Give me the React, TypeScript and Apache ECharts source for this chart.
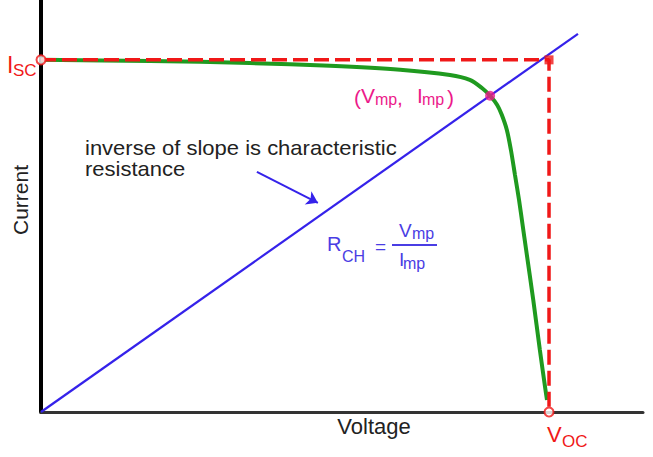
import React, { useEffect, useRef } from "react";
import * as echarts from "echarts";

// I–V curve of a solar cell (normalised: Voc = 1, Isc = 1)
const voltage = [0, 0.215, 0.411, 0.569, 0.707, 0.805, 0.844, 0.868, 0.884, 0.898, 0.907, 0.917, 0.925, 0.933, 0.941, 0.948, 0.955, 0.969, 0.982, 0.993, 0.996];
const current = [1.0, 0.997, 0.991, 0.983, 0.972, 0.957, 0.943, 0.92, 0.898, 0.872, 0.844, 0.801, 0.744, 0.673, 0.602, 0.531, 0.46, 0.318, 0.176, 0.063, 0.034];
const isc = 1.0;
const voc = 1.0;
const vmp = 0.884;
const imp = 0.898;
// end of the characteristic-resistance line (drawn through origin and MPP)
const slopeLineEnd = [1.057, 1.074];
// annotation arrow (start, end) in data units
const arrowFrom = [0.425, 0.682];
const arrowTo = [0.545, 0.594];
const xMax = 1.185;
const yMax = 1.17;

const FONT = "Liberation Sans, Arial, sans-serif";
const RED = "#f01818";
const MAG = "#ec1a8a";
const BLUE_TXT = "#4a3de4";
const BLUE = "#3522ea";
const GREEN = "#1f9a1f";

function txt(text: string, x: number, y: number, size: number, fill: string, align = "left", extra: any = {}, styleExtra: any = {}) {
  return {
    type: "text",
    x,
    y,
    z: 100,
    ...extra,
    style: { text, fill, font: `${size}px ${FONT}`, textAlign: align, textVerticalAlign: "middle", verticalAlign: "middle", ...styleExtra },
  };
}

export default function App() {
  const ref = useRef<HTMLDivElement>(null);
  useEffect(() => {
    if (!ref.current) return;
    const chart = echarts.init(ref.current, undefined, { renderer: "svg" });
    const curve = voltage.map((v, i) => [v, current[i]]);
    chart.setOption({
      animation: false,
      backgroundColor: "#ffffff",
      grid: { left: 41, top: 0, right: 10, bottom: 45 },
      xAxis: {
        type: "value",
        min: 0,
        max: xMax,
        axisLine: { show: true, lineStyle: { color: "#333333", width: 3 } },
        axisTick: { show: false },
        axisLabel: { show: false },
        splitLine: { show: false },
      },
      yAxis: {
        type: "value",
        min: 0,
        max: yMax,
        axisLine: { show: true, lineStyle: { color: "#000000", width: 4 } },
        axisTick: { show: false },
        axisLabel: { show: false },
        splitLine: { show: false },
      },
      series: [
        {
          type: "line",
          data: [[0, 0], slopeLineEnd],
          symbol: "none",
          lineStyle: { color: BLUE, width: 2.2 },
          z: 2,
        },
        {
          type: "lines",
          coordinateSystem: "cartesian2d",
          data: [{ coords: [arrowFrom, arrowTo] }],
          symbol: ["none", "arrow"],
          symbolSize: 11,
          lineStyle: { color: BLUE, width: 2, opacity: 1 },
          z: 2,
        },
        {
          type: "line",
          data: curve,
          symbol: "none",
          smooth: 0.3,
          lineStyle: { color: GREEN, width: 4 },
          z: 3,
        },
        {
          type: "line",
          data: [[0, isc], [voc, isc], [voc, 0]],
          symbol: "none",
          lineStyle: { color: RED, width: 3.5, type: [15, 6] },
          z: 4,
        },
        {
          type: "scatter",
          data: [[voc, isc]],
          symbol: "rect",
          symbolSize: 9,
          itemStyle: { color: RED },
          z: 5,
        },
        {
          type: "scatter",
          data: [[0, isc], [voc, 0]],
          symbol: "circle",
          symbolSize: 9,
          itemStyle: { color: "#ffffff", borderColor: RED, borderWidth: 2 },
          z: 6,
        },
        {
          type: "scatter",
          data: [[vmp, imp]],
          symbol: "circle",
          symbolSize: 10,
          itemStyle: { color: MAG },
          z: 6,
        },
      ],
      graphic: [
        // axis titles
        txt("Voltage", 374, 426, 22, "#222222", "center"),
        txt("Current", 20, 200, 21, "#222222", "center", { rotation: Math.PI / 2 }),
        // annotation
        txt("inverse of slope is characteristic", 85, 148, 20, "#222222", "left", { scaleX: 1.1 }),
        txt("resistance", 85, 169, 20, "#222222", "left", { scaleX: 1.1 }),
        // Isc
        txt("I", 7, 64.5, 23, RED),
        txt("SC", 13, 70.5, 17, RED),
        // Voc
        txt("V", 547, 434.5, 22, RED),
        txt("OC", 562, 441.5, 17, RED),
        // (Vmp, Imp)
        txt("(", 354, 97, 21, MAG),
        txt("V", 361, 95, 21, MAG),
        txt("mp", 375, 99, 16, MAG),
        txt(",", 397, 97, 21, MAG),
        txt("I", 417, 95, 21, MAG),
        txt("mp", 422, 99, 16, MAG),
        txt(")", 447, 97, 21, MAG),
        // R_CH = Vmp / Imp
        txt("R", 327, 243.5, 20, BLUE_TXT),
        txt("CH", 342, 256, 16, BLUE_TXT),
        txt("=", 375, 246, 19, BLUE_TXT),
        txt("V", 399, 230, 19, BLUE_TXT),
        txt("mp", 412, 233, 16, BLUE_TXT),
        {
          type: "line",
          z: 100,
          shape: { x1: 392, y1: 245, x2: 437, y2: 245 },
          style: { stroke: BLUE_TXT, lineWidth: 2 },
        },
        txt("I", 399, 259, 19, BLUE_TXT),
        txt("mp", 403, 263, 16, BLUE_TXT),
      ],
    });
    return () => chart.dispose();
  }, []);
  return <div ref={ref} style={{ width: 653, height: 457, position: "absolute", left: 0, top: 0 }} />;
}
